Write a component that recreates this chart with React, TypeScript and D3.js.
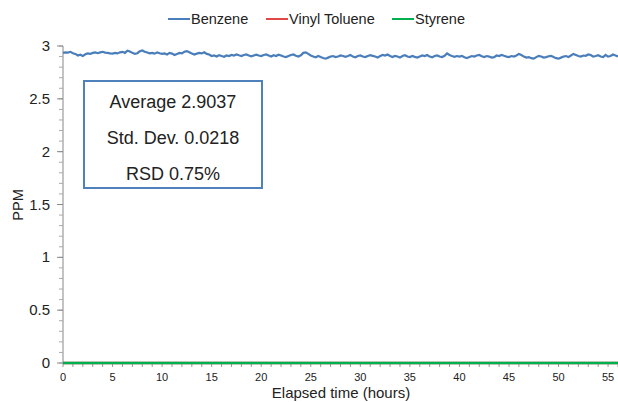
import React from "react";
import * as d3 from "d3";

const benzene: number[] = [
  2.935,2.94,2.938,2.945,2.932,2.925,2.91,2.918,2.905,2.922,2.93,2.925,2.935,2.94,2.932,2.94,2.945,2.938,2.935,2.93,
  2.928,2.935,2.93,2.94,2.945,2.935,2.955,2.948,2.935,2.925,2.932,2.95,2.958,2.945,2.938,2.93,2.935,2.928,2.94,2.932,
  2.925,2.93,2.92,2.935,2.928,2.915,2.925,2.935,2.93,2.945,2.952,2.94,2.93,2.92,2.928,2.935,2.93,2.94,2.925,2.92,
  2.905,2.91,2.9,2.912,2.905,2.898,2.91,2.905,2.915,2.91,2.92,2.912,2.905,2.915,2.92,2.91,2.902,2.91,2.918,2.91,
  2.905,2.915,2.92,2.91,2.9,2.912,2.905,2.918,2.91,2.9,2.895,2.905,2.915,2.92,2.908,2.9,2.912,2.935,2.94,2.925,
  2.91,2.9,2.893,2.905,2.895,2.887,2.88,2.89,2.9,2.905,2.895,2.9,2.91,2.905,2.897,2.905,2.915,2.9,2.893,2.905,
  2.91,2.9,2.895,2.905,2.913,2.907,2.9,2.89,2.905,2.915,2.91,2.92,2.905,2.895,2.907,2.9,2.89,2.905,2.913,2.9,
  2.895,2.905,2.897,2.89,2.9,2.91,2.905,2.915,2.9,2.893,2.905,2.91,2.9,2.895,2.907,2.93,2.915,2.905,2.897,2.905,
  2.9,2.907,2.893,2.885,2.895,2.905,2.9,2.91,2.915,2.903,2.895,2.905,2.9,2.89,2.895,2.91,2.905,2.915,2.907,2.9,
  2.895,2.905,2.9,2.91,2.925,2.915,2.9,2.89,2.895,2.885,2.88,2.895,2.907,2.9,2.89,2.895,2.903,2.907,2.895,2.885,
  2.88,2.89,2.9,2.905,2.895,2.91,2.925,2.915,2.905,2.9,2.91,2.907,2.92,2.915,2.9,2.905,2.913,2.9,2.895,2.915,
  2.9,2.905,2.92,2.91,2.9,
];
const timeStep = 0.25;
const vinylToluene: number[] = benzene.map(() => 0);
const styrene: number[] = benzene.map(() => 0);

const seriesNames = ["Benzene", "Vinyl Toluene", "Styrene"];
const seriesColors = ["#4a7ebb", "#e04848", "#00b050"];
const xTicks = [0, 5, 10, 15, 20, 25, 30, 35, 40, 45, 50, 55];
const yTicks = [0, 0.5, 1, 1.5, 2, 2.5, 3];
const statLines = ["Average 2.9037", "Std. Dev. 0.0218", "RSD 0.75%"];

const W = 618, H = 402;
const FONT = "'Liberation Sans', Arial, Helvetica, sans-serif";

export default function App() {
  const x = d3.scaleLinear().domain([0, 56]).range([63, 618]);
  const y = d3.scaleLinear().domain([0, 3]).range([363, 46]);
  const times = benzene.map((_, i) => i * timeStep);
  const line = d3.line<number>().x((_, i) => x(times[i])).y((v) => y(v));
  const xMinor = d3.range(0, 57, 1);
  const yMinor = d3.range(0, 3.0001, 0.1);
  const series = [benzene, vinylToluene, styrene];
  const legendX = [168, 266, 392];

  return (
    <svg width={W} height={H} style={{ position: "absolute", left: 0, top: 0, background: "#fff" }} fontFamily={FONT}>
      {/* legend */}
      {seriesNames.map((n, i) => (
        <g key={n}>
          <line x1={legendX[i]} x2={legendX[i] + 22} y1={19} y2={19} stroke={seriesColors[i]} strokeWidth={2} />
          <text x={legendX[i] + 23} y={24} fontSize={14.5} fill="#222">{n}</text>
        </g>
      ))}
      {/* y axis */}
      <line x1={63} x2={63} y1={46} y2={363} stroke="#888" strokeWidth={1} />
      {yMinor.map((v) => (
        <line key={"ym" + v} x1={59} x2={63} y1={y(v)} y2={y(v)} stroke="#aaa" strokeWidth={1} />
      ))}
      {yTicks.map((v) => (
        <g key={"yt" + v}>
          <line x1={57} x2={63} y1={y(v)} y2={y(v)} stroke="#888" strokeWidth={1} />
          <text x={50} y={y(v) + 5} fontSize={15} textAnchor="end" fill="#222">{v}</text>
        </g>
      ))}
      <text transform={`translate(23,${205}) rotate(-90)`} fontSize={14.5} textAnchor="middle" fill="#222">PPM</text>
      {/* x axis */}
      <line x1={63} x2={618} y1={363} y2={363} stroke="#888" strokeWidth={1} />
      {xMinor.map((v) => (
        <line key={"xm" + v} x1={x(v)} x2={x(v)} y1={363} y2={367} stroke="#999" strokeWidth={1} />
      ))}
      {xTicks.map((v) => (
        <text key={"xt" + v} x={x(v)} y={381} fontSize={11} textAnchor="middle" fill="#222">{v}</text>
      ))}
      <text x={341} y={398} fontSize={15} textAnchor="middle" fill="#222">Elapsed time (hours)</text>
      {/* series */}
      {series.map((s, i) => (
        <path key={seriesNames[i]} d={line(s) || ""} fill="none" stroke={seriesColors[i]} strokeWidth={i === 0 ? 2.2 : 2.5} />
      ))}
      {/* stats box */}
      <rect x={84} y={81} width={178} height={107} fill="#fff" stroke="#4f81bd" strokeWidth={2} />
      {statLines.map((t, i) => (
        <text key={t} x={173} y={108 + i * 36} fontSize={18} textAnchor="middle" fill="#222">{t}</text>
      ))}
    </svg>
  );
}
